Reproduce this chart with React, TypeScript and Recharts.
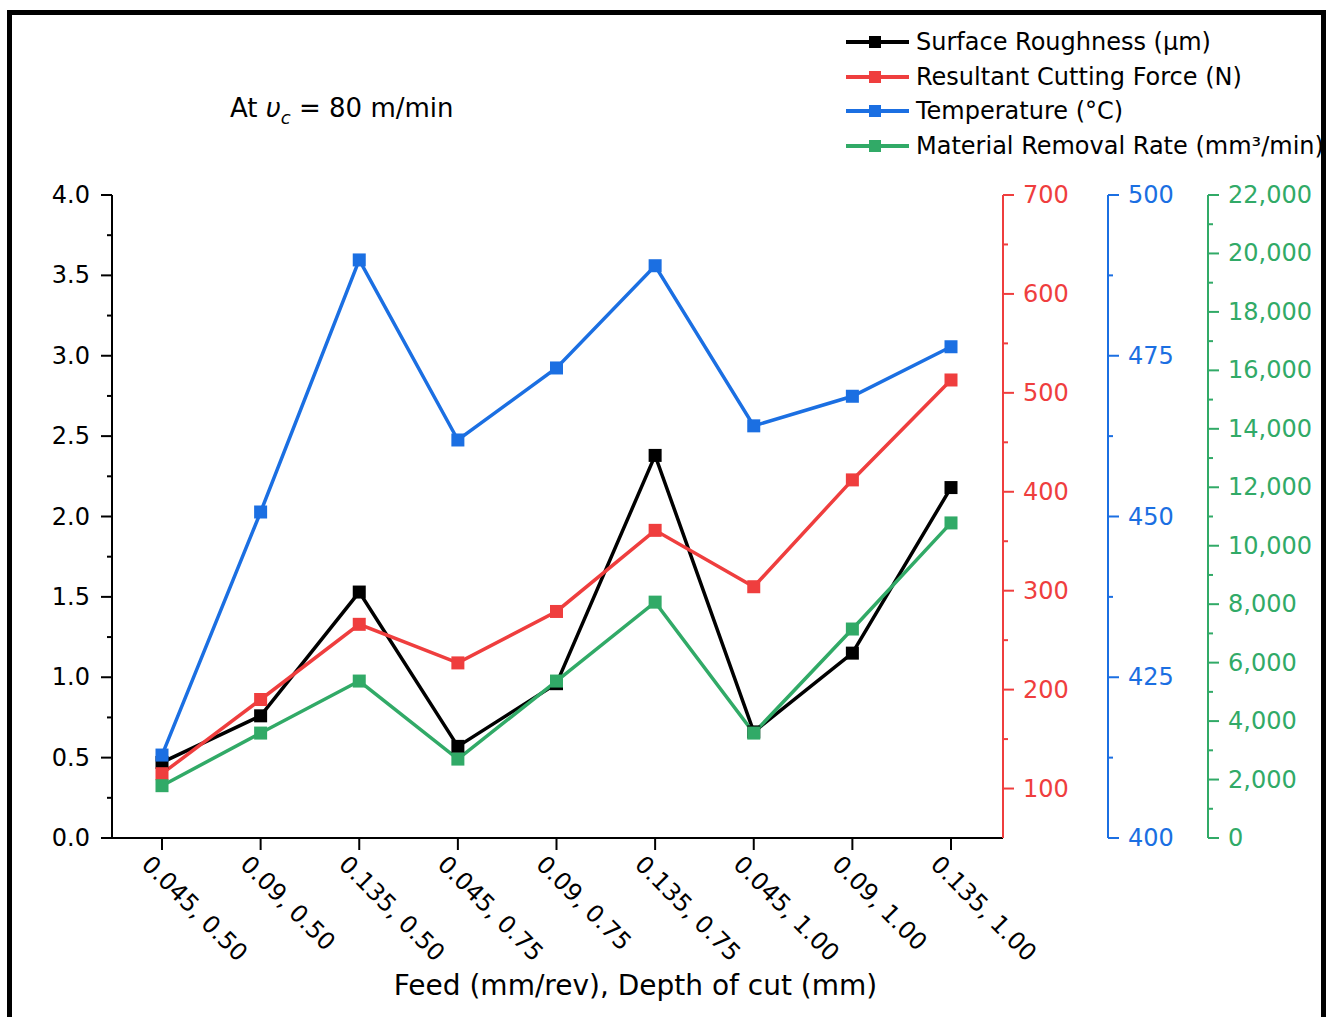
import React from "react";
import { LineChart, Line, XAxis, YAxis, Legend } from "recharts";

// feed (mm/rev), depth of cut (mm)
const categories = [
  "0.045, 0.50", "0.09, 0.50", "0.135, 0.50",
  "0.045, 0.75", "0.09, 0.75", "0.135, 0.75",
  "0.045, 1.00", "0.09, 1.00", "0.135, 1.00",
];
const roughness = [0.47, 0.76, 1.53, 0.57, 0.96, 2.38, 0.66, 1.15, 2.18];
const force = [115, 190, 266, 227, 279, 361, 304, 412, 513];
const temperature = [412.9, 450.7, 489.9, 461.9, 473.1, 489.0, 464.1, 468.7, 476.4];
const mrr = [1790, 3590, 5370, 2700, 5370, 8070, 3590, 7150, 10780];

const seriesNames = [
  "Surface Roughness (μm)",
  "Resultant Cutting Force (N)",
  "Temperature (°C)",
  "Material Removal Rate (mm³/min)",
];

const roughTicks = [0, 0.25, 0.5, 0.75, 1, 1.25, 1.5, 1.75, 2, 2.25, 2.5, 2.75, 3, 3.25, 3.5, 3.75, 4];
const forceTicks = [100, 150, 200, 250, 300, 350, 400, 450, 500, 550, 600, 650, 700];
const tempTicks = [400, 412.5, 425, 437.5, 450, 462.5, 475, 487.5, 500];
const mrrTicks = [0, 1000, 2000, 3000, 4000, 5000, 6000, 7000, 8000, 9000, 10000, 11000,
  12000, 13000, 14000, 15000, 16000, 17000, 18000, 19000, 20000, 21000, 22000];

const BLACK = "#000000";
const RED = "#ef3e3e";
const BLUE = "#1b6fe2";
const GREEN = "#31aa67";
const FONT = "'DejaVu Sans', sans-serif";

const data = categories.map((cat, i) => ({
  cat,
  sr: roughness[i],
  force: force[i],
  temp: temperature[i],
  mrr: mrr[i],
}));

// y-axis tick: long tick + label on majors, short tick on minors
function YTick(props: any) {
  const { x, y, payload, side, color, step, fmt } = props;
  const v = payload.value;
  const isMajor = Math.abs(v / step - Math.round(v / step)) < 1e-6;
  const dir = side === "left" ? -1 : 1;
  const len = isMajor ? 11 : 5;
  const gap = side === "left" ? 22 : 20;
  return (
    <g>
      <line x1={x} x2={x + dir * len} y1={y} y2={y} stroke={color} strokeWidth={2} />
      {isMajor && (
        <text
          x={x + dir * gap}
          y={y}
          textAnchor={side === "left" ? "end" : "start"}
          dominantBaseline="central"
          fill={color}
          fontSize={24}
          fontFamily={FONT}
        >
          {fmt(v)}
        </text>
      )}
    </g>
  );
}

function XTick(props: any) {
  const { x, y, payload } = props;
  const ax = x - 16;
  const ay = y + 10;
  return (
    <text
      x={ax}
      y={ay}
      transform={`rotate(45, ${ax}, ${ay})`}
      textAnchor="start"
      dominantBaseline="central"
      fill="#000"
      fontSize={24}
      fontFamily={FONT}
    >
      {payload.value}
    </text>
  );
}

function LegendBox(props: any) {
  const items = [...(props.payload || [])].sort(
    (a: any, b: any) => seriesNames.indexOf(a.value) - seriesNames.indexOf(b.value)
  );
  return (
    <div style={{ display: "flex", flexDirection: "column", fontFamily: FONT }}>
      {items.map((p: any) => (
        <div key={p.value} style={{ display: "flex", alignItems: "center", height: 34.5 }}>
          <svg width={63} height={14} style={{ display: "block" }}>
            <line x1={0} x2={63} y1={7} y2={7} stroke={p.color} strokeWidth={4} />
            <rect x={23} y={1} width={12} height={12} fill={p.color} />
          </svg>
          <span style={{ marginLeft: 7, fontSize: 24, color: "#000", whiteSpace: "nowrap" }}>
            {p.value}
          </span>
        </div>
      ))}
    </div>
  );
}

const squareDot = (color: string) => (p: any) => (
  <rect
    key={`${color}-${p.index}`}
    x={p.cx - 6.5}
    y={p.cy - 6.5}
    width={13}
    height={13}
    fill={color}
  />
);

const fmt1 = (v: number) => v.toFixed(1);
const fmtInt = (v: number) => String(v);
const fmtThousands = (v: number) => v.toLocaleString("en-US");

export default function App() {
  return (
    <div
      style={{
        position: "absolute",
        left: 0,
        top: 0,
        width: 1327,
        height: 1017,
        overflow: "hidden",
        background: "#fff",
      }}
    >
      {/* outer frame */}
      <div
        style={{
          position: "absolute",
          left: 7,
          top: 10,
          width: 1309,
          height: 1040,
          border: "5px solid #000",
        }}
      />

      <svg
        width={1327}
        height={1017}
        style={{ position: "absolute", left: 0, top: 0, pointerEvents: "none" }}
      >
        <text x={230} y={117} fontSize={26} fontFamily={FONT} fill="#000">
          At <tspan fontStyle="italic">υ</tspan>
          <tspan fontStyle="italic" fontSize={18} dy={7}>c</tspan>
          <tspan dy={-7}> = 80 m/min</tspan>
        </text>
      </svg>

      <div style={{ position: "absolute", left: 0, top: 0 }}>
        <LineChart
          width={1327}
          height={1017}
          data={data}
          margin={{ top: 195, right: 0, bottom: 0, left: 0 }}
        >
          <XAxis
            dataKey="cat"
            type="category"
            interval={0}
            height={179}
            padding={{ left: 50, right: 52 }}
            tick={<XTick />}
            tickSize={12}
            tickMargin={0}
            tickLine={{ stroke: "#000", strokeWidth: 2 }}
            axisLine={{ stroke: "#000", strokeWidth: 2 }}
            label={{
              value: "Feed (mm/rev), Depth of cut (mm)",
              position: "insideBottom",
              offset: 22,
              dx: 78,
              fill: "#000",
              fontSize: 28,
              fontFamily: FONT,
            }}
          />
          <YAxis
            yAxisId="y1"
            orientation="left"
            width={112}
            domain={[0, 4]}
            ticks={roughTicks}
            interval={0}
            tickSize={0}
            tickMargin={0}
            tickLine={false}
            axisLine={{ stroke: BLACK, strokeWidth: 2 }}
            tick={(p: any) => <YTick {...p} side="left" color={BLACK} step={0.5} fmt={fmt1} />}
          />
          <YAxis
            yAxisId="y2"
            orientation="right"
            width={105}
            domain={[50, 700]}
            ticks={forceTicks}
            interval={0}
            tickSize={0}
            tickMargin={0}
            tickLine={false}
            axisLine={{ stroke: RED, strokeWidth: 2 }}
            tick={(p: any) => <YTick {...p} side="right" color={RED} step={100} fmt={fmtInt} />}
          />
          <YAxis
            yAxisId="y3"
            orientation="right"
            width={100}
            domain={[400, 500]}
            ticks={tempTicks}
            interval={0}
            tickSize={0}
            tickMargin={0}
            tickLine={false}
            axisLine={{ stroke: BLUE, strokeWidth: 2 }}
            tick={(p: any) => <YTick {...p} side="right" color={BLUE} step={25} fmt={fmtInt} />}
          />
          <YAxis
            yAxisId="y4"
            orientation="right"
            width={119}
            domain={[0, 22000]}
            ticks={mrrTicks}
            interval={0}
            tickSize={0}
            tickMargin={0}
            tickLine={false}
            axisLine={{ stroke: GREEN, strokeWidth: 2 }}
            tick={(p: any) => <YTick {...p} side="right" color={GREEN} step={2000} fmt={fmtThousands} />}
          />

          <Legend
            layout="vertical"
            align="center"
            verticalAlign="middle"
            wrapperStyle={{ left: 846, top: 25, width: 480 }}
            content={(p: any) => <LegendBox {...p} />}
          />

          <Line
            yAxisId="y1"
            dataKey="sr"
            name={seriesNames[0]}
            stroke={BLACK}
            strokeWidth={3.5}
            strokeLinejoin="miter"
            dot={squareDot(BLACK)}
            activeDot={false}
            isAnimationActive={false}
          />
          <Line
            yAxisId="y2"
            dataKey="force"
            name={seriesNames[1]}
            stroke={RED}
            strokeWidth={3.5}
            strokeLinejoin="miter"
            dot={squareDot(RED)}
            activeDot={false}
            isAnimationActive={false}
          />
          <Line
            yAxisId="y3"
            dataKey="temp"
            name={seriesNames[2]}
            stroke={BLUE}
            strokeWidth={3.5}
            strokeLinejoin="miter"
            dot={squareDot(BLUE)}
            activeDot={false}
            isAnimationActive={false}
          />
          <Line
            yAxisId="y4"
            dataKey="mrr"
            name={seriesNames[3]}
            stroke={GREEN}
            strokeWidth={3.5}
            strokeLinejoin="miter"
            dot={squareDot(GREEN)}
            activeDot={false}
            isAnimationActive={false}
          />
        </LineChart>
      </div>
    </div>
  );
}
